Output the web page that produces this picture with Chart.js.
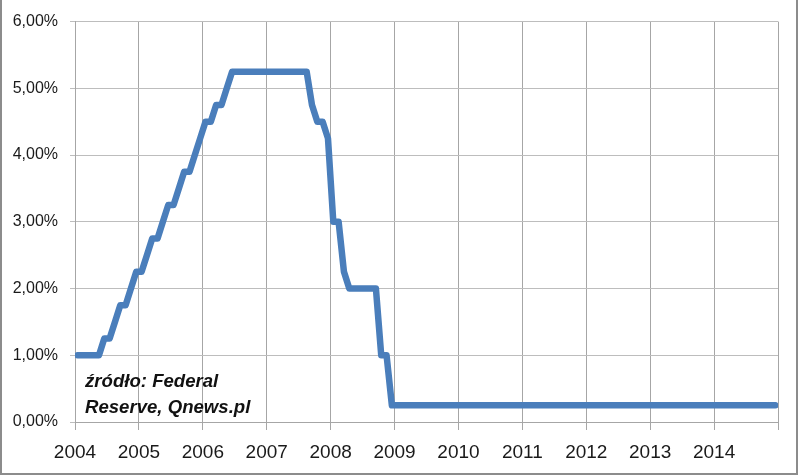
<!DOCTYPE html>
<html>
<head>
<meta charset="utf-8">
<script src="https://cdn.jsdelivr.net/npm/chart.js@4.4.1/dist/chart.umd.min.js"></script>
<style>
  html, body { margin: 0; padding: 0; background: #fff; }
  canvas { display: block; }
</style>
</head>
<body>
<canvas id="c" width="800" height="476"></canvas>
<script>
// Fed funds target rate, month-end values (%)
const years = [2004, 2005, 2006, 2007, 2008, 2009, 2010, 2011, 2012, 2013, 2014];
const rate2004 = [1, 1, 1, 1, 1, 1.25, 1.25, 1.5, 1.75, 1.75, 2, 2.25];
const rate2005 = [2.25, 2.5, 2.75, 2.75, 3, 3.25, 3.25, 3.5, 3.75, 3.75, 4, 4.25];
const rate2006 = [4.5, 4.5, 4.75, 4.75, 5, 5.25, 5.25, 5.25, 5.25, 5.25, 5.25, 5.25];
const rate2007 = [5.25, 5.25, 5.25, 5.25, 5.25, 5.25, 5.25, 5.25, 4.75, 4.5, 4.5, 4.25];
const rate2008 = [3, 3, 2.25, 2, 2, 2, 2, 2, 2, 1, 1, 0.25];
const rate2009 = [0.25, 0.25, 0.25, 0.25, 0.25, 0.25, 0.25, 0.25, 0.25, 0.25, 0.25, 0.25];
const rate2010 = [0.25, 0.25, 0.25, 0.25, 0.25, 0.25, 0.25, 0.25, 0.25, 0.25, 0.25, 0.25];
const rate2011 = [0.25, 0.25, 0.25, 0.25, 0.25, 0.25, 0.25, 0.25, 0.25, 0.25, 0.25, 0.25];
const rate2012 = [0.25, 0.25, 0.25, 0.25, 0.25, 0.25, 0.25, 0.25, 0.25, 0.25, 0.25, 0.25];
const rate2013 = [0.25, 0.25, 0.25, 0.25, 0.25, 0.25, 0.25, 0.25, 0.25, 0.25, 0.25, 0.25];
const rate2014 = [0.25, 0.25, 0.25, 0.25, 0.25, 0.25, 0.25, 0.25, 0.25, 0.25, 0.25, 0.25];
const ratesByYear = [rate2004, rate2005, rate2006, rate2007, rate2008, rate2009, rate2010, rate2011, rate2012, rate2013, rate2014];

const xTickLabels = ['2004', '2005', '2006', '2007', '2008', '2009', '2010', '2011', '2012', '2013', '2014', ''];
const yTickLabels = ['0,00%', '1,00%', '2,00%', '3,00%', '4,00%', '5,00%', '6,00%'];
const sourceLines = ['źródło: Federal', 'Reserve, Qnews.pl'];

// build points: each month placed mid-month on a year scale
const points = [];
years.forEach((yr, yi) => {
  ratesByYear[yi].forEach((v, m) => {
    points.push({ x: yr + (m + 0.5) / 12, y: v });
  });
});

const frame = {
  id: 'frame',
  beforeDraw(chart) {
    const ctx = chart.ctx;
    ctx.save();
    ctx.fillStyle = '#ffffff';
    ctx.fillRect(0, 0, chart.width, chart.height);
    ctx.restore();
  },
  afterDraw(chart) {
    const ctx = chart.ctx;
    ctx.save();
    ctx.strokeStyle = '#8c8c8c';
    ctx.lineWidth = 2;
    ctx.beginPath();
    ctx.moveTo(1, 0);
    ctx.lineTo(1, 474);
    ctx.lineTo(797, 474);
    ctx.lineTo(797, 0);
    ctx.stroke();
    ctx.fillStyle = '#111111';
    ctx.font = 'bold italic 18.6px "Liberation Sans", Arial, sans-serif';
    ctx.textBaseline = 'alphabetic';
    ctx.textAlign = 'left';
    ctx.fillText(sourceLines[0], 85, 387);
    ctx.fillText(sourceLines[1], 85, 413);
    ctx.restore();
  }
};

new Chart(document.getElementById('c'), {
  type: 'line',
  data: {
    datasets: [{
      data: points,
      borderColor: '#4a7ebb',
      borderWidth: 6.5,
      borderJoinStyle: 'round',
      borderCapStyle: 'round',
      pointRadius: 0,
      pointHoverRadius: 0,
      tension: 0,
      fill: false
    }]
  },
  plugins: [frame],
  options: {
    responsive: false,
    animation: false,
    events: [],
    layout: { padding: { top: 21, right: 22, left: 0, bottom: 0 } },
    plugins: { legend: { display: false }, tooltip: { enabled: false }, title: { display: false } },
    scales: {
      x: {
        type: 'linear',
        min: 2004,
        max: 2015,
        afterFit(scale) { scale.height = 54; },
        afterBuildTicks(scale) {
          scale.ticks = xTickLabels.map((_, i) => ({ value: 2004 + i }));
        },
        ticks: {
          autoSkip: false,
          maxRotation: 0,
          padding: 11,
          color: '#1a1a1a',
          font: { family: '"Liberation Sans", Arial, sans-serif', size: 19 },
          callback: (v, i) => xTickLabels[i]
        },
        grid: { color: '#a6a6a6', lineWidth: 1, tickLength: 8 },
        border: { display: true, color: '#a6a6a6' }
      },
      y: {
        min: 0,
        max: 6,
        afterFit(scale) { scale.width = 75; },
        afterBuildTicks(scale) {
          scale.ticks = yTickLabels.map((_, i) => ({ value: i }));
        },
        ticks: {
          padding: 12,
          color: '#1a1a1a',
          font: { family: '"Liberation Sans", Arial, sans-serif', size: 16 },
          callback: (v, i) => yTickLabels[i]
        },
        grid: { color: '#bdbdbd', lineWidth: 1, tickLength: 5 },
        border: { display: true, color: '#a6a6a6' }
      }
    }
  }
});
</script>
</body>
</html>
